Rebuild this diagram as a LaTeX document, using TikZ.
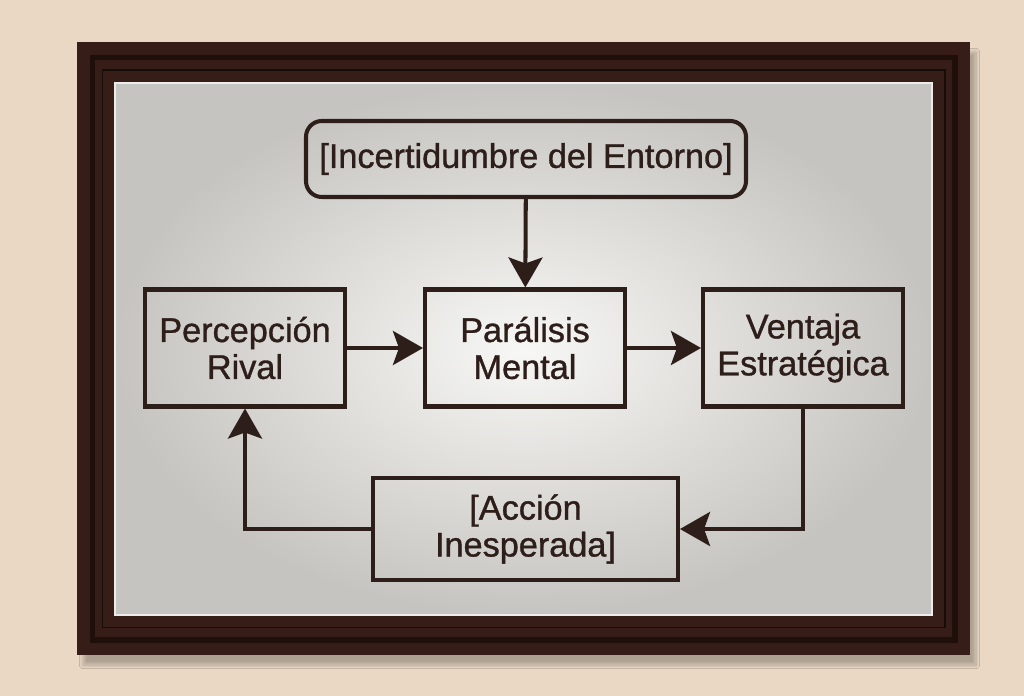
\documentclass[tikz,border=0pt]{standalone}
\usepackage{fontspec}
\setmainfont{Liberation Sans}[UprightFeatures={FakeBold=1.0}]
\usepackage{xcolor}
\usepackage{tikz}
\usetikzlibrary{arrows.meta,positioning,calc,shadows.blur}
\definecolor{WallBeige}{RGB}{234,216,196}
\definecolor{FrameBrown}{RGB}{54,29,23}
\definecolor{FrameDark}{RGB}{30,15,11}
\definecolor{PlateEdge}{RGB}{198,196,192}
\definecolor{PlateLight}{RGB}{247,247,245}
\definecolor{InkBrown}{RGB}{46,30,26}

\begin{document}
\begin{tikzpicture}[
    font=\fontsize{19.5}{21}\selectfont,
    box/.style={draw=InkBrown, line width=2.3pt, minimum width=4cm, minimum height=2.34cm,
                align=center, text=InkBrown, inner sep=2pt},
    topbox/.style={box, rounded corners=9pt, minimum width=8.8cm, minimum height=1.52cm},
    link/.style={draw=InkBrown, line width=2.3pt, -{Stealth[length=0.6cm, width=0.68cm, inset=0.12cm]}},
  ]

  % Wand und Rahmen
  \fill[WallBeige] (0,0) rectangle (20.48,-13.92);
  \useasboundingbox (0,0) rectangle (20.48,-13.92);
  \fill[FrameBrown, blur shadow={shadow xshift=0.12cm, shadow yshift=-0.2cm, shadow blur steps=10, shadow opacity=25}]
    (1.54,-0.84) rectangle (19.4,-13.1);
  \draw[FrameDark, line width=3pt] (1.85,-1.15) rectangle (19.1,-12.8);
  \draw[black!60!FrameBrown, line width=1pt] (2.05,-1.4) rectangle (18.9,-12.55);

  % Platte
  \shade[inner color=PlateLight, outer color=PlateEdge,
         draw=white!85!gray, line width=0.8pt]
    (2.3,-1.66) rectangle (18.64,-12.3);

  % Knoten
  \node[topbox] (env) at (10.52,-3.18) {[Incertidumbre del Entorno]};
  \node[box] (perc) at (4.9,-6.96) {Percepción\\Rival};
  \node[box] (para) at (10.5,-6.96) {Parálisis\\Mental};
  \node[box] (vent) at (16.06,-6.96) {Ventaja\\Estratégica};
  \node[box, minimum width=6.1cm, minimum height=2.04cm] (acc) at (10.51,-10.58)
    {[Acción\\Inesperada]};

  % Pfeile
  \draw[link] (env) -- (para);
  \draw[link] (perc) -- (para);
  \draw[link] (para) -- (vent);
  \draw[link] (vent.south) |- (acc.east);
  \draw[link] (acc.west) -| (perc.south);

\end{tikzpicture}
\end{document}
